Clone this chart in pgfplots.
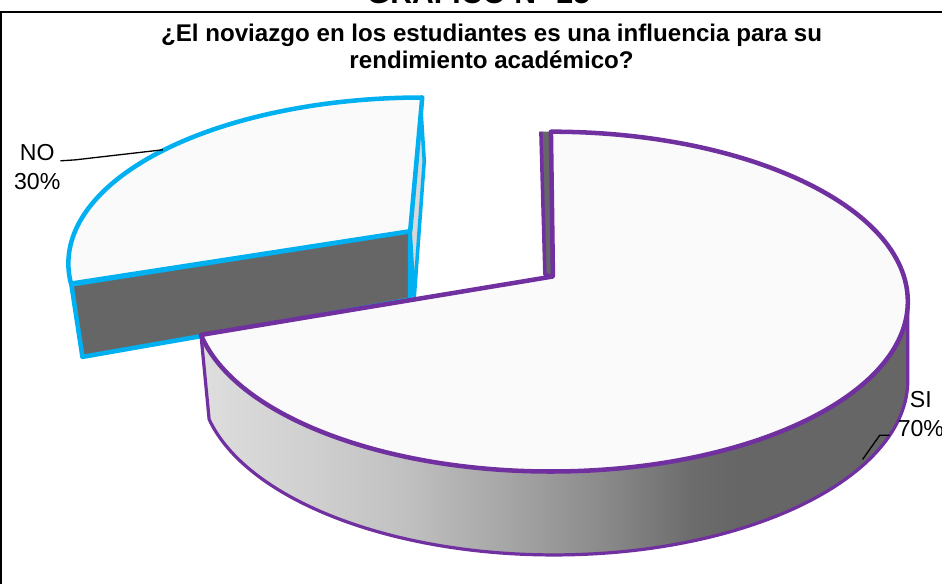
\documentclass[border=0pt]{standalone}
\usepackage{pgfplots}
\usepackage{pgfplotstable}
\pgfplotsset{compat=1.18}
\usepackage{fontspec}
\setmainfont{Liberation Sans}
\definecolor{nob}{HTML}{00B0F0}
\definecolor{sip}{HTML}{7030A0}
\definecolor{topf}{HTML}{FAFAFA}
\definecolor{darkf}{HTML}{666666}
\pgfdeclarehorizontalshading{sideshade}{100bp}{color(0bp)=(black!13); color(25bp)=(black!13); color(32bp)=(black!18); color(39bp)=(black!24); color(46bp)=(black!34); color(53bp)=(black!45); color(60bp)=(black!58); color(63bp)=(black!60); color(100bp)=(black!60)}
\pgfplotstableread{
label value
SI 70
NO 30
}\piedata
\pgfplotstablegetelem{0}{value}\of\piedata\let\vSI\pgfplotsretval
\pgfplotstablegetelem{1}{value}\of\piedata\let\vNO\pgfplotsretval
\begin{document}
\begin{tikzpicture}
\begin{axis}[x=1pt,y=1pt,xmin=0,xmax=942,ymin=0,ymax=580,hide axis,clip=true]
% frame
\draw[line width=2pt] (6,-20) -- (6,568) -- (960,568);
% cut heading
\node[anchor=base,font=\bfseries\fontsize{30}{36}\selectfont] at (481,577) {GRÁFICO N° 25};
% title
\node[align=center,font=\bfseries\fontsize{24}{27}\selectfont] at (494,533.5) {¿El noviazgo en los estudiantes es una influencia para su\\rendimiento académico?};
% NO slice (exploded)
\filldraw[fill=darkf,draw=nob,line width=4.5pt,line join=round] (76,297) -- (413,350) -- (413,282) -- (87,225) -- cycle;
\filldraw[fill=black!15,draw=nob,line width=3.5pt,line join=round] (423,483) -- (427,420) -- (417,283) -- (413,350) -- cycle;
\filldraw[fill=topf,draw=nob,line width=4.5pt,line join=round] (413,350) -- (425,483) arc[start angle=90,end angle=187,x radius=352,y radius=165] -- cycle;
% SI side
\path[shading=sideshade] (204.9,247) arc[start angle=191.3,end angle=360,x radius=355,y radius=169] -- (908,202) arc[start angle=360,end angle=193,x radius=352,y radius=174] -- cycle;
\draw[sip,line width=3.2pt,line join=round] (204.9,247) arc[start angle=191.3,end angle=360,x radius=355,y radius=169] -- (908,202) arc[start angle=360,end angle=193,x radius=352,y radius=174] -- cycle;
% SI radial sliver
\fill[darkf] (543,449) -- (547,307) -- (555,305) -- (553,449) -- cycle;
\draw[sip,line width=3.5pt,line join=round] (543,449) -- (547,307) -- (555,305);
% SI top
\filldraw[fill=topf,draw=sip,line width=4.5pt,line join=round] (555,305) -- (553,449) arc[start angle=90,end angle=-168.7,x radius=355,y radius=169] -- cycle;
% leader lines
\draw[line width=1.3pt] (65,420) -- (80,421) -- (167,431);
\draw[line width=1.3pt] (890,147) -- (880,147) -- (863,123);
% labels
\node[align=center,font=\fontsize{23}{29}\selectfont] at (42,413.5) {NO\\\vNO\%};
\node[align=center,font=\fontsize{23}{29}\selectfont] at (921,168) {SI\\\vSI\%};
\end{axis}
\end{tikzpicture}
\end{document}
